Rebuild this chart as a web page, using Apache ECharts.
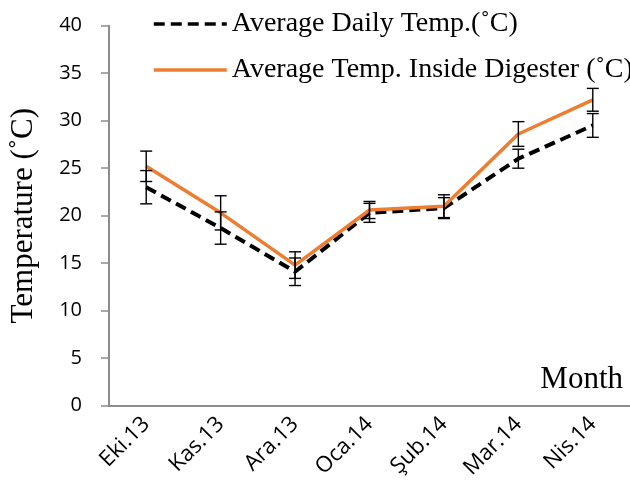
<!DOCTYPE html>
<html>
<head>
<meta charset="utf-8">
<script src="https://cdn.jsdelivr.net/npm/echarts@6/dist/echarts.min.js"></script>
<style>
  html, body { margin: 0; padding: 0; background: #fff; }
  #chart { width: 630px; height: 492px; }
</style>
</head>
<body>
<div id="chart"></div>
<script>
// months (Turkish abbreviations)
const months = ['Eki.13', 'Kas.13', 'Ara.13', 'Oca.14', 'Şub.14', 'Mar.14', 'Nis.14'];

// average daily air temperature and its error
const dailyTemp = [23.0, 18.7, 14.1, 20.3, 20.8, 26.0, 29.5];
const dailyErr = [1.75, 1.7, 1.45, 1.0, 1.1, 1.0, 1.25];

// average temperature inside the digester and its error
const digesterTemp = [25.2, 20.3, 14.8, 20.6, 21.0, 28.6, 32.2];
const digesterErr = [1.6, 1.8, 1.4, 0.9, 1.2, 1.3, 1.2];

const yTicks = { min: 0, max: 40, interval: 5 };

const axisGray = '#8c8c8c';
const serif = '"Liberation Serif", "Times New Roman", serif';
const sans = '"Open Sans", sans-serif';

function errData(vals, errs) {
  return vals.map((v, i) => [i, v - errs[i], v + errs[i]]);
}

function renderErr(params, api) {
  const top = api.coord([api.value(0), api.value(2)]);
  const bot = api.coord([api.value(0), api.value(1)]);
  const cap = 6;
  const style = { stroke: '#000', lineWidth: 1.4 };
  return {
    type: 'group',
    children: [
      { type: 'line', shape: { x1: top[0], y1: top[1], x2: bot[0], y2: bot[1] }, style: style },
      { type: 'line', shape: { x1: top[0] - cap, y1: top[1], x2: top[0] + cap, y2: top[1] }, style: style },
      { type: 'line', shape: { x1: bot[0] - cap, y1: bot[1], x2: bot[0] + cap, y2: bot[1] }, style: style }
    ]
  };
}

const chart = echarts.init(document.getElementById('chart'), null, { renderer: 'canvas' });

const option = {
  animation: false,
  backgroundColor: '#fff',
  title: {
    text: 'Month',
    right: 2,
    top: 359,
    textStyle: { fontFamily: serif, fontSize: 31, fontWeight: 'normal', color: '#000' }
  },
  legend: {
    orient: 'vertical',
    left: 147,
    top: 4,
    itemWidth: 73,
    itemHeight: 14,
    itemGap: 16,
    itemStyle: { opacity: 0 },
    lineStyle: { width: 3.5 },
    textStyle: { fontFamily: serif, fontSize: 28, color: '#000', lineHeight: 30 },
    data: ['Average Daily Temp.(˚C)', 'Average Temp. Inside Digester (˚C)']
  },
  grid: { left: 98, right: -8, top: 25.7, bottom: 86.3, containLabel: false },
  xAxis: {
    type: 'category',
    data: months,
    boundaryGap: true,
    axisLine: { lineStyle: { color: axisGray, width: 2 } },
    axisTick: { show: false },
    axisLabel: {
      rotate: 45,
      margin: 15,
      fontFamily: sans,
      fontSize: 22,
      color: '#000'
    }
  },
  yAxis: {
    type: 'value',
    min: yTicks.min,
    max: yTicks.max,
    interval: yTicks.interval,
    name: 'Temperature (˚C)',
    nameLocation: 'middle',
    nameRotate: 90,
    nameGap: 70,
    nameTextStyle: { fontFamily: serif, fontSize: 31, color: '#000' },
    axisLine: { show: true, lineStyle: { color: axisGray, width: 2 } },
    axisTick: { show: true, length: 8, lineStyle: { color: axisGray, width: 1.5 } },
    splitLine: { show: false },
    axisLabel: { margin: 27, fontFamily: sans, fontSize: 20, color: '#000' }
  },
  series: [
    {
      name: 'Average Daily Temp.(˚C)',
      type: 'line',
      data: dailyTemp,
      symbol: 'none',
      color: '#000',
      lineStyle: { color: '#000', width: 4, type: [11, 6] },
      z: 2
    },
    {
      name: 'Average Temp. Inside Digester (˚C)',
      type: 'line',
      data: digesterTemp,
      symbol: 'none',
      color: '#ED7D31',
      lineStyle: { color: '#ED7D31', width: 3.5 },
      z: 3
    },
    {
      type: 'custom',
      renderItem: renderErr,
      data: errData(dailyTemp, dailyErr),
      encode: { x: 0, y: [1, 2] },
      z: 4
    },
    {
      type: 'custom',
      renderItem: renderErr,
      data: errData(digesterTemp, digesterErr),
      encode: { x: 0, y: [1, 2] },
      z: 4
    }
  ]
};

chart.setOption(option);
</script>
</body>
</html>
